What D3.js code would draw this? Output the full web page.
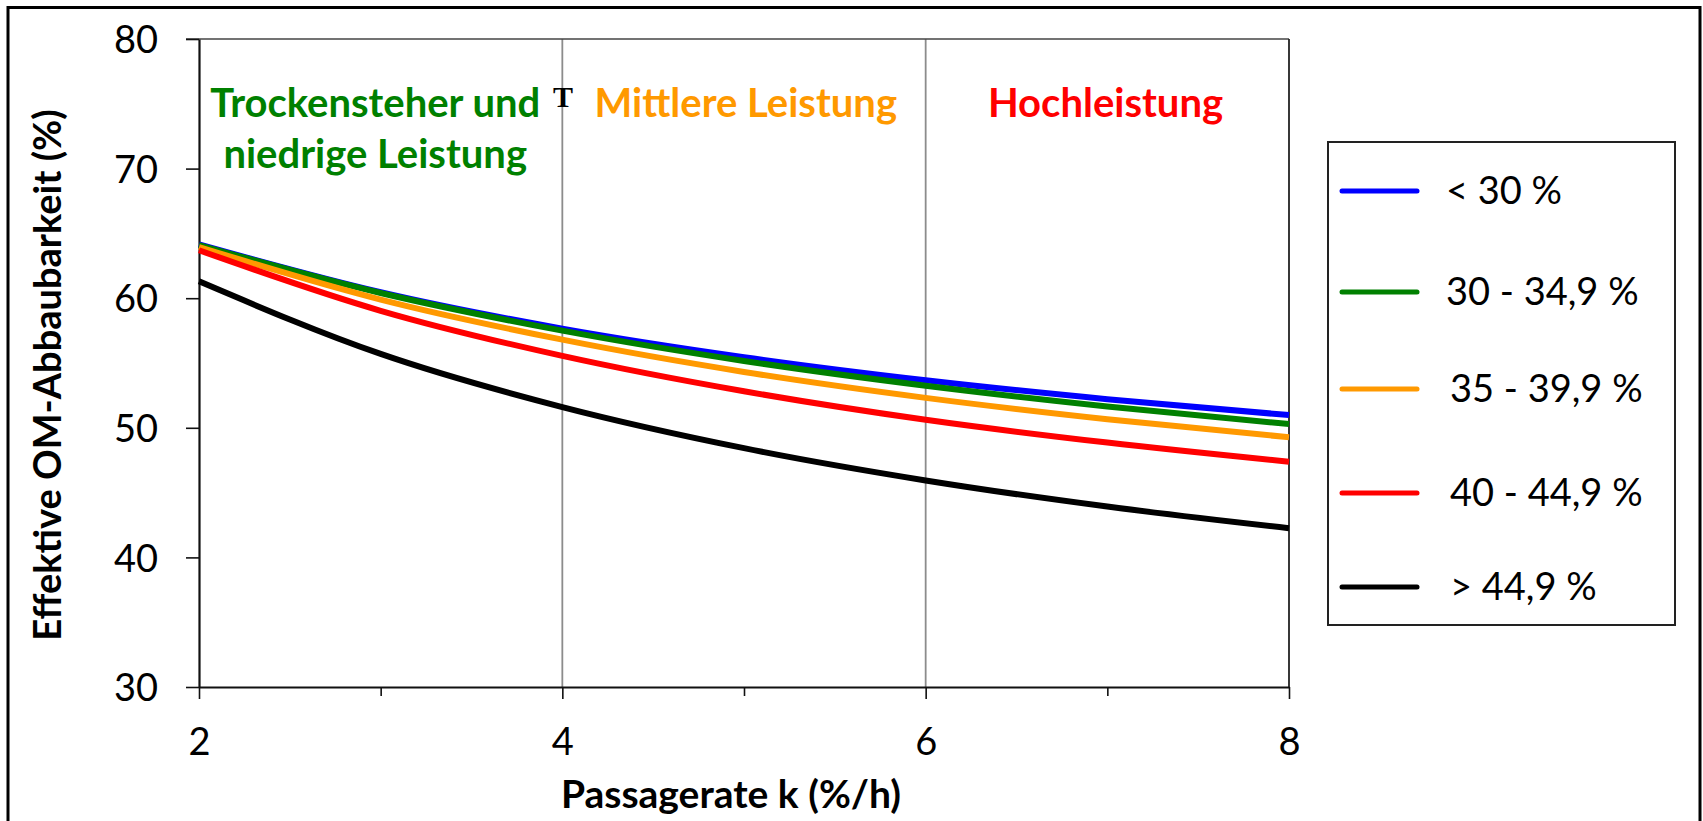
<!DOCTYPE html>
<html>
<head>
<meta charset="utf-8">
<script src="https://cdn.jsdelivr.net/npm/d3@7"></script>
<style>
  html, body { margin: 0; padding: 0; background: #ffffff; }
  svg { display: block; }
</style>
</head>
<body>
<svg id="chart" width="1703" height="821"></svg>
<script>
// ---------------- data ----------------
const kValues = [2, 3, 4, 5, 6, 7, 8];
const seriesNames = ["< 30 %", "30 - 34,9 %", "35 - 39,9 %", "40 - 44,9 %", "> 44,9 %"];
const seriesColors = ["#0000ff", "#008000", "#ff9900", "#ff0000", "#000000"];
const valuesLt30   = [64.15, 60.46, 57.65, 55.45, 53.67, 52.21, 50.98];
const values30_349 = [64.10, 60.40, 57.50, 55.16, 53.25, 51.65, 50.29];
const values35_399 = [63.95, 59.89, 56.80, 54.31, 52.31, 50.66, 49.27];
const values40_449 = [63.70, 59.03, 55.55, 52.82, 50.62, 48.86, 47.38];
const valuesGt449  = [61.30, 55.70, 51.60, 48.43, 45.94, 43.92, 42.25];
const allValues = [valuesLt30, values30_349, values35_399, values40_449, valuesGt449];

const xMajorTicks = [2, 4, 6, 8];
const xMinorTicks = [3, 5, 7];
const yTicks = [30, 40, 50, 60, 70, 80];
const gridX = [4, 6];
const regionTitles = [
  { lines: ["Trockensteher und", "niedrige Leistung"], color: "#008000", k: 2.97 },
  { lines: ["Mittlere Leistung"], color: "#ff9900", k: 5.01 },
  { lines: ["Hochleistung"], color: "#ff0000", k: 6.99 }
];
const xTitle = "Passagerate k (%/h)";
const yTitle = "Effektive OM-Abbaubarkeit (%)";

// ---------------- layout ----------------
const FONT = "Lato, 'Open Sans', sans-serif";
const svg = d3.select("#chart");
const L = 199, R = 1289, T = 39, B = 687;
const x = d3.scaleLinear().domain([2, 8]).range([L, R]);
const y = d3.scaleLinear().domain([30, 80]).range([B, T]);

// outer frame
svg.append("rect")
  .attr("x", 8).attr("y", 7.5).attr("width", 1692).attr("height", 840)
  .attr("fill", "none").attr("stroke", "#000").attr("stroke-width", 3);

// vertical gridlines
svg.append("g").selectAll("line").data(gridX).join("line")
  .attr("x1", d => x(d)).attr("x2", d => x(d))
  .attr("y1", T).attr("y2", B)
  .attr("stroke", "#8c8c8c").attr("stroke-width", 1.8);

// top & right frame of plot
svg.append("line").attr("x1", L - 13).attr("x2", R).attr("y1", T).attr("y2", T)
  .attr("stroke", "#444").attr("stroke-width", 1.6);
svg.append("line").attr("x1", R).attr("x2", R).attr("y1", T).attr("y2", B)
  .attr("stroke", "#222").attr("stroke-width", 1.8);

// y axis
const yAxis = svg.append("g").attr("transform", `translate(${L},0)`)
  .call(d3.axisLeft(y).tickValues(yTicks).tickSize(13).tickSizeOuter(0).tickPadding(28)
    .tickFormat(d3.format("d")));
yAxis.select(".domain").attr("stroke", "#111").attr("stroke-width", 2.2);
yAxis.selectAll(".tick line").attr("stroke", "#111").attr("stroke-width", 1.6);
yAxis.selectAll(".tick text")
  .attr("font-family", FONT).attr("font-size", 38).attr("fill", "#000")
  .attr("dy", "0.36em");

// x axis (major)
const xAxis = svg.append("g").attr("transform", `translate(0,${B})`)
  .call(d3.axisBottom(x).tickValues(xMajorTicks).tickSize(12).tickSizeOuter(0).tickPadding(0)
    .tickFormat(d3.format("d")));
xAxis.select(".domain").attr("stroke", "#111").attr("stroke-width", 2.2);
xAxis.selectAll(".tick line").attr("stroke", "#111").attr("stroke-width", 1.6);
xAxis.selectAll(".tick text")
  .attr("font-family", FONT).attr("font-size", 38).attr("fill", "#000")
  .attr("y", 68).attr("dy", 0);

// x axis (minor ticks)
const xMinor = svg.append("g").attr("transform", `translate(0,${B})`)
  .call(d3.axisBottom(x).tickValues(xMinorTicks).tickSize(9).tickFormat(""));
xMinor.select(".domain").remove();
xMinor.selectAll(".tick line").attr("stroke", "#111").attr("stroke-width", 1.6);

// series lines
const line = d3.line()
  .x((d, i) => x(kValues[i]))
  .y(d => y(d))
  .curve(d3.curveMonotoneX);
svg.append("g").selectAll("path").data(allValues).join("path")
  .attr("d", d => line(d))
  .attr("fill", "none")
  .attr("stroke", (d, i) => seriesColors[i])
  .attr("stroke-width", 6);

// region titles
regionTitles.forEach(rt => {
  rt.lines.forEach((txt, j) => {
    svg.append("text")
      .attr("x", x(rt.k)).attr("y", 117 + j * 51)
      .attr("text-anchor", "middle")
      .attr("font-family", FONT).attr("font-weight", 700).attr("font-size", 40)
      .attr("fill", rt.color)
      .text(txt);
  });
});
// stray glyph in original
svg.append("text").attr("x", 563).attr("y", 107).attr("text-anchor", "middle")
  .attr("font-family", "'Liberation Serif', serif").attr("font-weight", 700)
  .attr("font-size", 30).attr("fill", "#000")
  .text("T");

// axis titles
svg.append("text")
  .attr("x", 731).attr("y", 808).attr("text-anchor", "middle")
  .attr("font-family", FONT).attr("font-weight", 700).attr("font-size", 39)
  .attr("fill", "#000").text(xTitle);
svg.append("text")
  .attr("transform", "translate(61,375) rotate(-90)")
  .attr("text-anchor", "middle")
  .attr("font-family", FONT).attr("font-weight", 700).attr("font-size", 38)
  .attr("fill", "#000").text(yTitle);

// legend
const legendRows = [191, 292, 389, 493, 587];
const lg = svg.append("g");
lg.append("rect").attr("x", 1328).attr("y", 142).attr("width", 347).attr("height", 483)
  .attr("fill", "#fff").attr("stroke", "#222").attr("stroke-width", 2);
seriesNames.forEach((name, i) => {
  lg.append("line")
    .attr("x1", 1342).attr("x2", 1417)
    .attr("y1", legendRows[i]).attr("y2", legendRows[i])
    .attr("stroke", seriesColors[i]).attr("stroke-width", 5).attr("stroke-linecap", "round");
  lg.append("text")
    .attr("x", i >= 2 ? 1450 : 1446).attr("y", legendRows[i] + 13)
    .attr("font-family", FONT).attr("font-size", 38).attr("fill", "#000")
    .text(name);
});
</script>
</body>
</html>
